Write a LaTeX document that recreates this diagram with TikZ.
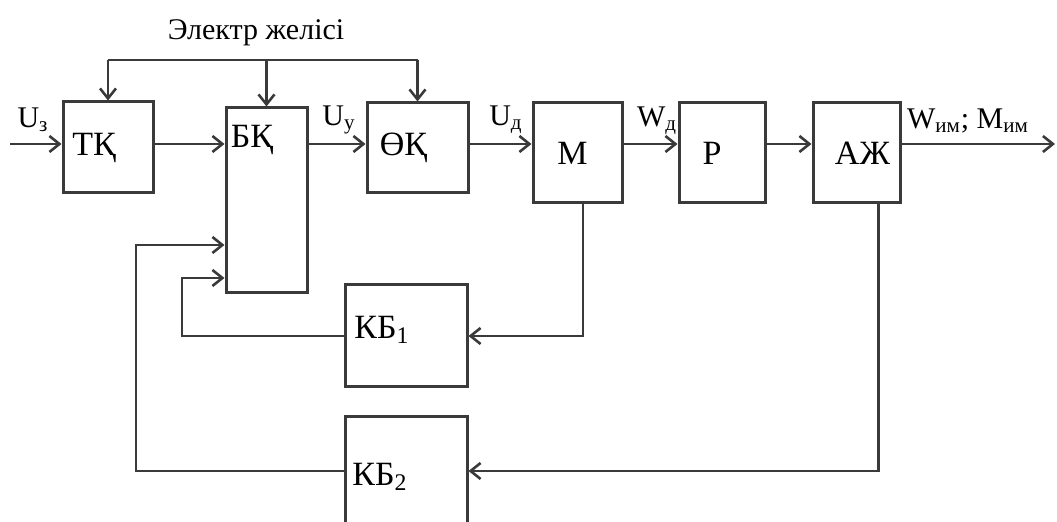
\documentclass[tikz,border=0pt]{standalone}
\usepackage{fontspec}
\setmainfont{Liberation Serif}
\usepackage{tikz}
\usetikzlibrary{arrows.meta,positioning,calc}
\definecolor{ink}{HTML}{3A3A3A}
\tikzset{
  blk/.style={draw=ink,line width=1.5pt,inner sep=0pt,align=center,
    font=\fontsize{17}{20}\selectfont},
  blab/.style={inner sep=0pt,font=\fontsize{17}{20}\selectfont},
  sig/.style={inner sep=0pt,font=\fontsize{15}{17}\selectfont},
  flow/.style={-{Straight Barb[length=5pt,width=8pt]},line width=1.3pt,draw=ink},
  wire/.style={line width=1.3pt,draw=ink},
}
\begin{document}
\begin{tikzpicture}[x=0.5pt,y=-0.5pt]
  \useasboundingbox (0,0) rectangle (1057,522);
  \clip (0,0) rectangle (1057,522);
  % --- forward chain ---
  \node[blk,minimum width=45pt,minimum height=45.5pt]   (tk) at (108,147.5) {ТҚ\hspace*{14pt}};
  \node[blk,minimum width=40.5pt,minimum height=92.5pt] (bk) at (266.5,200.5) {};
  \node[blab] (bklab) at (252,140) {БҚ};
  \node[blk,minimum width=50.5pt,minimum height=45pt]   (ok) at (417.5,148) {ӨҚ\hspace*{14pt}};
  \node[blk,minimum width=44.5pt,minimum height=50pt]   (m)  at (577.5,153) {М\hspace*{5pt}};
  \node[blk,minimum width=43pt,minimum height=50pt]     (p)  at (722,153) {Р\hspace*{10pt}};
  \node[blk,minimum width=43.5pt,minimum height=50pt]   (aj) at (856.5,153) {\hspace*{6pt}АЖ};
  % --- feedback blocks ---
  \node[blk,minimum width=61pt,minimum height=51pt]     (kb1) at (406,336) {};
  \node[blab] (kb1lab) at (382,330) {КБ\textsubscript{1}};
  \node[blk,minimum width=61pt,minimum height=54pt]     (kb2) at (406,471) {};
  \node[blab] (kb2lab) at (380,477) {КБ\textsubscript{2}};
  % --- signals on the main line ---
  \coordinate (in)  at (10,144);
  \coordinate (out) at (1055,144);
  \draw[flow] (in) -- (in -| tk.west);
  \draw[flow] (in -| tk.east) -- (in -| bk.west);
  \draw[flow] (in -| bk.east) -- (in -| ok.west);
  \draw[flow] (in -| ok.east) -- (in -| m.west);
  \draw[flow] (in -| m.east)  -- (in -| p.west);
  \draw[flow] (in -| p.east)  -- (in -| aj.west);
  \draw[flow] (in -| aj.east) -- (out);
  \node[sig] (uz) at (33,120)  {U\textsubscript{з}};
  \node[sig] (uu) at (339,120) {U\textsubscript{у}};
  \node[sig] (ud) at (506,120) {U\textsubscript{д}};
  \node[sig] (wd) at (657,121) {W\textsubscript{д}};
  \node[sig] (wm) at (968,121) {W\textsubscript{им}; M\textsubscript{им}};
  % --- supply bus ---
  \coordinate (bus) at (264,60);
  \node[sig] (net) at (256,33) {Электр желісі};
  \draw[wire] (tk.north |- bus) -- (ok.north |- bus);
  \draw[flow] (tk.north |- bus) -- (tk.north);
  \draw[flow] (bk.north |- bus) -- (bk.north);
  \draw[flow] (ok.north |- bus) -- (ok.north);
  % --- feedback loops ---
  \coordinate (fb1) at (182,278);
  \coordinate (fb2) at (136,245);
  \draw[flow] ([xshift=2.75pt]m.south) |- (kb1.east);
  \draw[flow] (kb1.west) -| (fb1) -- (fb1 -| bk.west);
  \draw[flow] ([xshift=11pt]aj.south) |- (kb2.east);
  \draw[flow] (kb2.west) -| (fb2) -- (fb2 -| bk.west);
\end{tikzpicture}
\end{document}
